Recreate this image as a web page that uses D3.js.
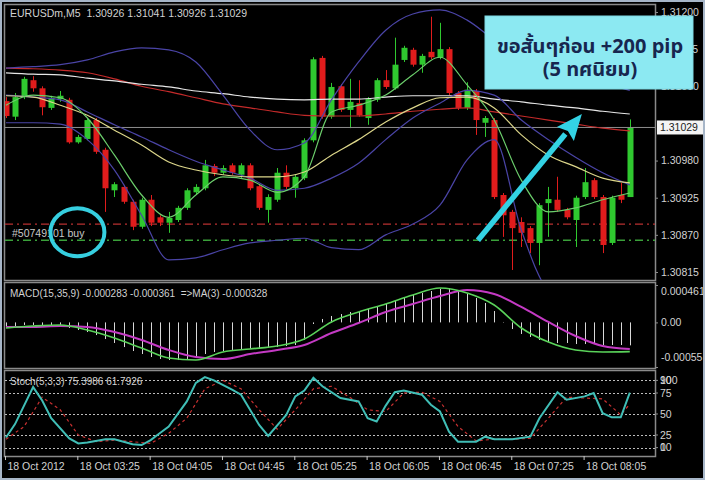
<!DOCTYPE html>
<html><head><meta charset="utf-8">
<script src="https://cdn.jsdelivr.net/npm/d3@7"></script>
<style>body{margin:0;background:#000;}svg{display:block;}</style>
</head><body>
<svg id="c" width="705" height="480"></svg>
<script>
// ---------------- DATA ----------------
const headerText = "EURUSDm,M5  1.30926 1.31041 1.30926 1.31029";
const macdText = "MACD(15,35,9) -0.000283 -0.000361  =>MA(3) -0.000328";
const stochText = "Stoch(5,3,3) 75.3986 61.7926";
const orderLabel = "#50749101 buy";
const noteLine1 = "ขอสั้นๆก่อน +200 pip";
const noteLine2 = "(5 ทศนิยม)";

const candleOpen = [1.31068,1.31045,1.31074,1.31099,1.31087,1.31058,1.31071,1.31070,1.31007,1.31012,
1.31040,1.30996,1.30936,1.30941,1.30919,1.30882,1.30922,1.30896,1.30888,1.30892,
1.30910,1.30933,1.30939,1.30972,1.30962,1.30973,1.30959,1.30973,1.30942,1.30907,
1.30922,1.30962,1.30939,1.30954,1.31010,1.31132,1.31045,1.31090,1.31055,1.31065,
1.31043,1.31070,1.31099,1.31087,1.31129,1.31144,1.31122,1.31141,1.31133,1.31145,
1.31080,1.31058,1.31083,1.31036,1.31040,1.30929,1.30904,1.30889,1.30880,1.30858,
1.30917,1.30922,1.30907,1.30892,1.30926,1.30951,1.30926,1.30858,1.30929,1.30926];
const candleHigh = [1.31074,1.31080,1.31104,1.31105,1.31090,1.31076,1.31083,1.31073,1.31018,1.31043,
1.31043,1.30999,1.30948,1.30944,1.30922,1.30925,1.30929,1.30899,1.30904,1.30913,
1.30939,1.30945,1.30981,1.30975,1.30973,1.30976,1.30976,1.30976,1.30945,1.30930,
1.30969,1.30973,1.30960,1.31013,1.31133,1.31135,1.31095,1.31093,1.31101,1.31099,
1.31074,1.31102,1.31114,1.31162,1.31150,1.31147,1.31138,1.31193,1.31184,1.31148,
1.31083,1.31096,1.31086,1.31046,1.31043,1.30932,1.30907,1.30896,1.30883,1.30917,
1.30941,1.30956,1.30910,1.30928,1.30969,1.30954,1.30929,1.30928,1.30947,1.31041];
const candleLow = [1.31043,1.31040,1.31071,1.31082,1.31047,1.31055,1.31067,1.31005,1.31005,1.31010,
1.30990,1.30904,1.30926,1.30916,1.30877,1.30879,1.30883,1.30883,1.30873,1.30889,
1.30907,1.30930,1.30936,1.30957,1.30959,1.30959,1.30954,1.30936,1.30907,1.30888,
1.30919,1.30938,1.30925,1.30951,1.31007,1.31042,1.31042,1.31052,1.31028,1.31045,
1.31033,1.31067,1.31086,1.31085,1.31126,1.31119,1.31110,1.31130,1.31130,1.31077,
1.31055,1.31055,1.31018,1.31015,1.30923,1.30867,1.30818,1.30852,1.30843,1.30825,
1.30867,1.30904,1.30893,1.30852,1.30923,1.30923,1.30843,1.30855,1.30917,1.30926];
const candleClose = [1.31046,1.31074,1.31101,1.31087,1.31059,1.31073,1.31076,1.31007,1.31015,1.31040,
1.30993,1.30939,1.30945,1.30919,1.30882,1.30922,1.30888,1.30888,1.30895,1.30910,
1.30936,1.30941,1.30973,1.30962,1.30969,1.30962,1.30973,1.30939,1.30910,1.30926,
1.30962,1.30941,1.30956,1.31010,1.31130,1.31045,1.31089,1.31055,1.31067,1.31047,
1.31071,1.31099,1.31089,1.31122,1.31147,1.31122,1.31135,1.31133,1.31145,1.31080,
1.31058,1.31085,1.31040,1.31043,1.30926,1.30899,1.30880,1.30873,1.30858,1.30914,
1.30923,1.30907,1.30896,1.30925,1.30948,1.30926,1.30855,1.30925,1.30922,1.31029];

// indicator lines, read at every third bar
const lineIdx = [0,3,6,9,12,15,18,21,24,27,30,33,36,39,42,45,48,51,54,57,60,63,66,69];
const bbUpper = [1.31117,1.31119,1.31122,1.31129,1.31141,1.31147,1.31144,1.31126,1.31077,1.31025,1.30996,1.31006,1.31070,1.31126,1.31173,1.31197,1.31203,1.31188,1.31159,1.31136,1.31122,1.31107,1.31095,1.31084];
const bbMiddle = [1.31077,1.31074,1.31070,1.31052,1.31033,1.31015,1.30996,1.30979,1.30966,1.30954,1.30936,1.30939,1.30954,1.30976,1.31011,1.31043,1.31065,1.31084,1.31077,1.31040,1.31011,1.30985,1.30962,1.30944];
const bbLower = [1.31036,1.31036,1.31034,1.31011,1.30966,1.30899,1.30833,1.30836,1.30848,1.30858,1.30862,1.30865,1.30851,1.30848,1.30870,1.30886,1.30914,1.30981,1.31011,1.30877,1.30788,1.30770,1.30765,1.30762];
const maWhite = [1.31110,1.31108,1.31107,1.31102,1.31098,1.31093,1.31089,1.31083,1.31079,1.31074,1.31071,1.31070,1.31071,1.31071,1.31074,1.31076,1.31076,1.31076,1.31071,1.31067,1.31062,1.31058,1.31053,1.31049];
const maRed = [1.31117,1.31116,1.31114,1.31110,1.31101,1.31090,1.31082,1.31073,1.31064,1.31058,1.31052,1.31047,1.31046,1.31046,1.31049,1.31053,1.31056,1.31058,1.31052,1.31046,1.31040,1.31034,1.31028,1.31024];
const maYellow = [1.31076,1.31074,1.31062,1.31047,1.31025,1.31003,1.30978,1.30966,1.30959,1.30956,1.30956,1.30963,1.30988,1.31011,1.31037,1.31058,1.31073,1.31074,1.31058,1.31018,1.30988,1.30971,1.30954,1.30947];
const maGreen = [1.31062,1.31077,1.31073,1.31043,1.30988,1.30929,1.30896,1.30929,1.30956,1.30951,1.30933,1.30956,1.31052,1.31062,1.31077,1.31107,1.31133,1.31092,1.31040,1.30951,1.30904,1.30910,1.30922,1.30932];

// 1.31035 is hidden under the current-price label in the reference
const priceTicks = [1.30815,1.30870,1.30925,1.30980,1.31090,1.31145,1.31200];
const lastPrice = 1.31029;
const stopLevel = 1.30886;
const orderLevel = 1.30862;

// MACD
const macdHist = [-0.000045,-0.000045,-0.000032,-0.000032,-0.000032,-0.000032,-0.000045,-0.000069,-0.000094,-0.000119,
-0.000156,-0.000205,-0.000254,-0.000304,-0.000353,-0.000390,-0.000427,-0.000451,-0.000464,-0.000464,
-0.000451,-0.000427,-0.000390,-0.000365,-0.000353,-0.000340,-0.000328,-0.000328,-0.000328,-0.000316,
-0.000304,-0.000291,-0.000279,-0.000217,-0.000020,0.000042,0.000079,0.000103,0.000128,0.000140,
0.000165,0.000202,0.000227,0.000264,0.000313,0.000338,0.000362,0.000387,0.000412,0.000424,
0.000399,0.000350,0.000301,0.000239,0.000140,0.000005,-0.000082,-0.000143,-0.000180,-0.000217,
-0.000242,-0.000254,-0.000254,-0.000267,-0.000267,-0.000267,-0.000279,-0.000279,-0.000279,-0.000283];
const macdMain = [-0.000069,-0.000045,-0.000032,-0.000094,-0.000193,-0.000316,-0.000439,-0.000464,-0.000365,-0.000328,-0.000291,-0.000205,0.000005,0.000128,0.000227,0.000338,0.000424,0.000362,0.000214,-0.000069,-0.000242,-0.000340,-0.000365,-0.000361];
const macdSignal = [-0.000057,-0.000057,-0.000045,-0.000057,-0.000119,-0.000217,-0.000340,-0.000427,-0.000451,-0.000390,-0.000340,-0.000279,-0.000131,-0.000008,0.000128,0.000227,0.000325,0.000399,0.000350,0.000190,0.000005,-0.000168,-0.000291,-0.000328];
const macdTicks = [0.000461,0,-0.00055];
const macdTickLabels = ["0.000461","0.00","-0.00055"];

// Stochastic
const stochIdx = [0,1,3,4,5,7,8,9,11,12,14,15,16,17,18,20,21,22,23,25,26,28,29,31,32,33,34,35,37,39,40,41,42,43,44,46,47,48,49,50,52,53,54,56,58,59,61,62,64,65,66,67,68,69];
const stochMain = [22,38,82,66,45,21,15,16,20,20,14,13,19,27,35,65,87,94,90,79,73,37,24,49,71,78,93,83,69,65,45,41,60,76,78,73,61,53,29,17,17,23,20,20,23,45,76,67,71,75,51,46,46,75.3986];
const stochSigIdx = [0,2,4,6,8,10,12,14,16,18,20,22,24,26,28,30,32,34,36,38,40,42,44,46,48,50,52,54,56,58,60,62,64,66,68,69];
const stochSignal = [20,35,70,55,25,17,19,17,15,27,45,80,90,80,55,32,55,80,83,70,55,53,75,76,65,35,18,20,20,21,45,70,69,68,49,61.7926];
const stochLevels = [90,75,50,25,10];
const stochTicks = [100,90,75,50,25,10,0];

// time axis
const timeTickBars = [0,8,16,24,32,40,48,56,64];
const timeTickLabels = ["18 Oct 2012","18 Oct 03:25","18 Oct 04:05","18 Oct 04:45","18 Oct 05:25","18 Oct 06:05","18 Oct 06:45","18 Oct 07:25","18 Oct 08:05"];

// annotations (in data units)
const arrowFrom = {bar:52.2, price:1.30862};
const arrowTo = {bar:63.7, price:1.31049};
const circleAt = {bar:7.9, price:1.30874};

// ---------------- DRAW ----------------
const svg = d3.select('#c');
const FONT = "'Liberation Sans', Arial, sans-serif";
const TXT = '#d2d2d2';
const GRID = '#8a8a8a';
const plotL = 5, plotR = 655;
const mainTop = 5, mainBot = 280, macdTop = 283, macdBot = 368, stTop = 371, stBot = 456;

const x = d3.scaleLinear().domain([0,69]).range([6,629.8]);
const yP = d3.scaleLinear().domain([1.30815,1.31200]).range([272,12]);
const yM = d3.scaleLinear().domain([-0.00055,0.000461]).range([367,285]);
const yS = d3.scaleLinear().domain([0,100]).range([456,372]);

svg.append('rect').attr('width',705).attr('height',480).attr('fill','#000');

const defs = svg.append('defs');
[['clipMain',mainTop,mainBot],['clipMacd',macdTop,macdBot],['clipSt',stTop,stBot]].forEach(([id,t,b])=>{
  defs.append('clipPath').attr('id',id).append('rect')
    .attr('x',plotL).attr('y',t).attr('width',plotR-plotL).attr('height',b-t);
});

// panel frames
[[mainTop,mainBot],[macdTop,macdBot],[stTop,stBot]].forEach(([t,b])=>{
  svg.append('rect').attr('x',plotL-0.5).attr('y',t-0.5).attr('width',plotR-plotL+1).attr('height',b-t+1)
    .attr('fill','none').attr('stroke',GRID).attr('stroke-width',1.5);
});

// ---- main panel ----
const gMain = svg.append('g').attr('clip-path','url(#clipMain)');
const bull = '#2fc82f', bear = '#e01c1c';
const candles = d3.range(candleOpen.length).map(i=>({i,o:candleOpen[i],h:candleHigh[i],l:candleLow[i],c:candleClose[i]}));

gMain.append('line').attr('x1',plotL).attr('x2',plotR).attr('y1',yP(stopLevel)).attr('y2',yP(stopLevel))
  .attr('stroke','#b83030').attr('stroke-width',1.3).attr('stroke-dasharray','8,4,2,4');
gMain.append('line').attr('x1',plotL).attr('x2',plotR).attr('y1',yP(orderLevel)).attr('y2',yP(orderLevel))
  .attr('stroke','#3aa03a').attr('stroke-width',1.3).attr('stroke-dasharray','8,4,2,4');

gMain.selectAll('line.wick').data(candles).join('line').attr('class','wick')
  .attr('x1',d=>Math.round(x(d.i))+0.5).attr('x2',d=>Math.round(x(d.i))+0.5)
  .attr('y1',d=>yP(d.h)).attr('y2',d=>yP(d.l))
  .attr('stroke',d=>d.c>=d.o?bull:bear).attr('stroke-width',1);
gMain.selectAll('rect.body').data(candles).join('rect').attr('class','body')
  .attr('x',d=>Math.round(x(d.i))-2.5).attr('width',6)
  .attr('y',d=>yP(Math.max(d.o,d.c)))
  .attr('height',d=>Math.max(1.5,Math.abs(yP(d.o)-yP(d.c))))
  .attr('fill',d=>d.c>=d.o?bull:bear);

gMain.append('line').attr('x1',plotL).attr('x2',plotR).attr('y1',yP(lastPrice)).attr('y2',yP(lastPrice))
  .attr('stroke','#8c8c8c').attr('stroke-width',1);

const pts = vals => lineIdx.map((b,k)=>[b,vals[k]]);
const lineP = d3.line().x(d=>x(d[0])).y(d=>yP(d[1])).curve(d3.curveMonotoneX);
[[maRed,'#c42a2a'],[maWhite,'#e6e6e6'],[bbUpper,'#4a44a6'],[bbMiddle,'#4a44a6'],[bbLower,'#4a44a6'],
 [maYellow,'#dcd68a'],[maGreen,'#6ccf6c']].forEach(([vals,col])=>{
  gMain.append('path').datum(pts(vals)).attr('d',lineP).attr('fill','none')
    .attr('stroke',col).attr('stroke-width',1.2);
});

svg.append('text').attr('x',10).attr('y',17).attr('fill',TXT).attr('font-family',FONT)
  .attr('font-size','10.5px').style('white-space','pre').text(headerText);
svg.append('text').attr('x',12).attr('y',yP(orderLevel)-3).attr('fill','#c8c8c8').attr('font-family',FONT)
  .attr('font-size','10.5px').text(orderLabel);

// price axis
const axP = svg.append('g').attr('transform',`translate(${plotR},0)`)
  .call(d3.axisRight(yP).tickValues(priceTicks).tickFormat(d3.format('.5f')).tickSize(3).tickPadding(3));
axP.select('.domain').attr('stroke',GRID).attr('d',`M0.5,${mainTop}V${mainBot}`);
axP.selectAll('line').attr('stroke',GRID);
axP.selectAll('text').attr('fill',TXT).attr('font-family',FONT).attr('font-size','10.5px');

svg.append('rect').attr('x',plotR+2).attr('y',yP(lastPrice)-7).attr('width',47).attr('height',14).attr('fill','#f4f4f4');
svg.append('text').attr('x',plotR+5).attr('y',yP(lastPrice)+4).attr('fill','#202020').attr('font-family',FONT)
  .attr('font-size','10.5px').text(d3.format('.5f')(lastPrice));

// ---- MACD panel ----
const gM = svg.append('g').attr('clip-path','url(#clipMacd)');
gM.selectAll('line.h').data(macdHist).join('line').attr('class','h')
  .attr('x1',(d,i)=>Math.round(x(i))+0.5).attr('x2',(d,i)=>Math.round(x(i))+0.5)
  .attr('y1',yM(0)).attr('y2',d=>yM(d)).attr('stroke','#d8d8d8').attr('stroke-width',1);
const lineM = d3.line().x(d=>x(d[0])).y(d=>yM(d[1])).curve(d3.curveMonotoneX);
gM.append('path').datum(pts(macdSignal)).attr('d',lineM).attr('fill','none').attr('stroke','#c43ac4').attr('stroke-width',2);
gM.append('path').datum(pts(macdMain)).attr('d',lineM).attr('fill','none').attr('stroke','#5ad25a').attr('stroke-width',1.6);
svg.append('text').attr('x',10).attr('y',297).attr('fill',TXT).attr('font-family',FONT)
  .attr('font-size','10px').style('white-space','pre').text(macdText);
const axM = svg.append('g').attr('transform',`translate(${plotR},0)`)
  .call(d3.axisRight(yM).tickValues(macdTicks).tickFormat((d,i)=>macdTickLabels[i]).tickSize(3).tickPadding(3));
axM.select('.domain').attr('stroke',GRID).attr('d',`M0.5,${macdTop}V${macdBot}`);
axM.selectAll('line').attr('stroke',GRID);
axM.selectAll('text').attr('fill',TXT).attr('font-family',FONT).attr('font-size','10.5px')
  .attr('dy',(d,i)=> i===0 ? '0.9em' : (i===2 ? '-0.6em' : '0.32em'));

// ---- Stochastic panel ----
const gS = svg.append('g').attr('clip-path','url(#clipSt)');
gS.selectAll('line.lv').data(stochLevels).join('line').attr('class','lv')
  .attr('x1',plotL).attr('x2',plotR).attr('y1',d=>Math.round(yS(d))+0.5).attr('y2',d=>Math.round(yS(d))+0.5)
  .attr('stroke','#bdbdbd').attr('stroke-dasharray','2,2').attr('stroke-width',1);
const lineS = d3.line().x(d=>x(d[0])).y(d=>yS(d[1]));
gS.append('path').datum(stochSigIdx.map((b,k)=>[b,stochSignal[k]])).attr('d',lineS).attr('fill','none')
  .attr('stroke','#c83030').attr('stroke-width',1.2).attr('stroke-dasharray','3,3');
gS.append('path').datum(stochIdx.map((b,k)=>[b,stochMain[k]])).attr('d',lineS).attr('fill','none')
  .attr('stroke','#40beb6').attr('stroke-width',2);
svg.append('text').attr('x',10).attr('y',385).attr('fill',TXT).attr('font-family',FONT)
  .attr('font-size','10px').text(stochText);
const axS = svg.append('g').attr('transform',`translate(${plotR},0)`);
axS.append('line').attr('x1',0.5).attr('x2',0.5).attr('y1',stTop).attr('y2',stBot).attr('stroke',GRID);
// MT4 draws 100 over 90 and 0 over 10, as in the reference
axS.selectAll('text').data(stochTicks).join('text')
  .attr('x',5).attr('y',d=> d===100 ? yS(90) : (d===0 ? yS(10) : yS(d)))
  .attr('dy','0.35em').attr('fill',TXT).attr('font-family',FONT).attr('font-size','10.5px').text(d=>d);
axS.selectAll('line.t').data(stochLevels).join('line').attr('class','t')
  .attr('x1',0).attr('x2',3).attr('y1',d=>yS(d)).attr('y2',d=>yS(d)).attr('stroke',GRID);

// ---- time axis ----
const axT = svg.append('g').attr('transform',`translate(0,${stBot})`)
  .call(d3.axisBottom(x).tickValues(timeTickBars).tickFormat((d,i)=>timeTickLabels[i]).tickSize(4).tickPadding(3));
axT.select('.domain').remove();
axT.selectAll('line').attr('stroke','#c8c8c8').attr('transform','translate(-1,0)');
axT.selectAll('text').attr('fill',TXT).attr('font-family',FONT).attr('font-size','10.5px')
  .attr('text-anchor','start').attr('dx','1');

// ---- annotations ----
svg.append('ellipse').attr('cx',x(circleAt.bar)).attr('cy',yP(circleAt.price)).attr('rx',27).attr('ry',24)
  .attr('fill','none').attr('stroke','#36cfe0').attr('stroke-width',4);
const ax1 = x(arrowFrom.bar), ay1 = yP(arrowFrom.price), ax2 = x(arrowTo.bar), ay2 = yP(arrowTo.price);
const ang = Math.atan2(ay2-ay1, ax2-ax1);
const headLen = 26, headW = 11;
const bx = ax2 - headLen*Math.cos(ang), by = ay2 - headLen*Math.sin(ang);
svg.append('line').attr('x1',ax1).attr('y1',ay1).attr('x2',bx).attr('y2',by)
  .attr('stroke','#33d2e4').attr('stroke-width',5.5);
svg.append('path').attr('fill','#33d2e4')
  .attr('d',`M${ax2},${ay2}L${bx+headW*Math.sin(ang)},${by-headW*Math.cos(ang)}L${bx+4*Math.cos(ang)},${by+4*Math.sin(ang)}L${bx-headW*Math.sin(ang)},${by+headW*Math.cos(ang)}Z`);

svg.append('rect').attr('x',485).attr('y',16).attr('width',208).attr('height',73)
  .attr('fill','#8ce9f2').attr('stroke','#7fd8e2').attr('stroke-width',1);
const THAI = "'Noto Sans Thai','Tahoma','Noto Sans','DejaVu Sans',sans-serif";
svg.append('text').attr('x',590).attr('y',53).attr('text-anchor','middle').attr('fill','#17264f')
  .attr('font-family',THAI).attr('font-weight','bold').attr('font-size','20px').text(noteLine1);
svg.append('text').attr('x',590).attr('y',76).attr('text-anchor','middle').attr('fill','#17264f')
  .attr('font-family',THAI).attr('font-weight','bold').attr('font-size','20px').text(noteLine2);

svg.append('rect').attr('x',1).attr('y',1).attr('width',703).attr('height',478)
  .attr('fill','none').attr('stroke','#a7b6c8').attr('stroke-width',2);
</script>
</body></html>
